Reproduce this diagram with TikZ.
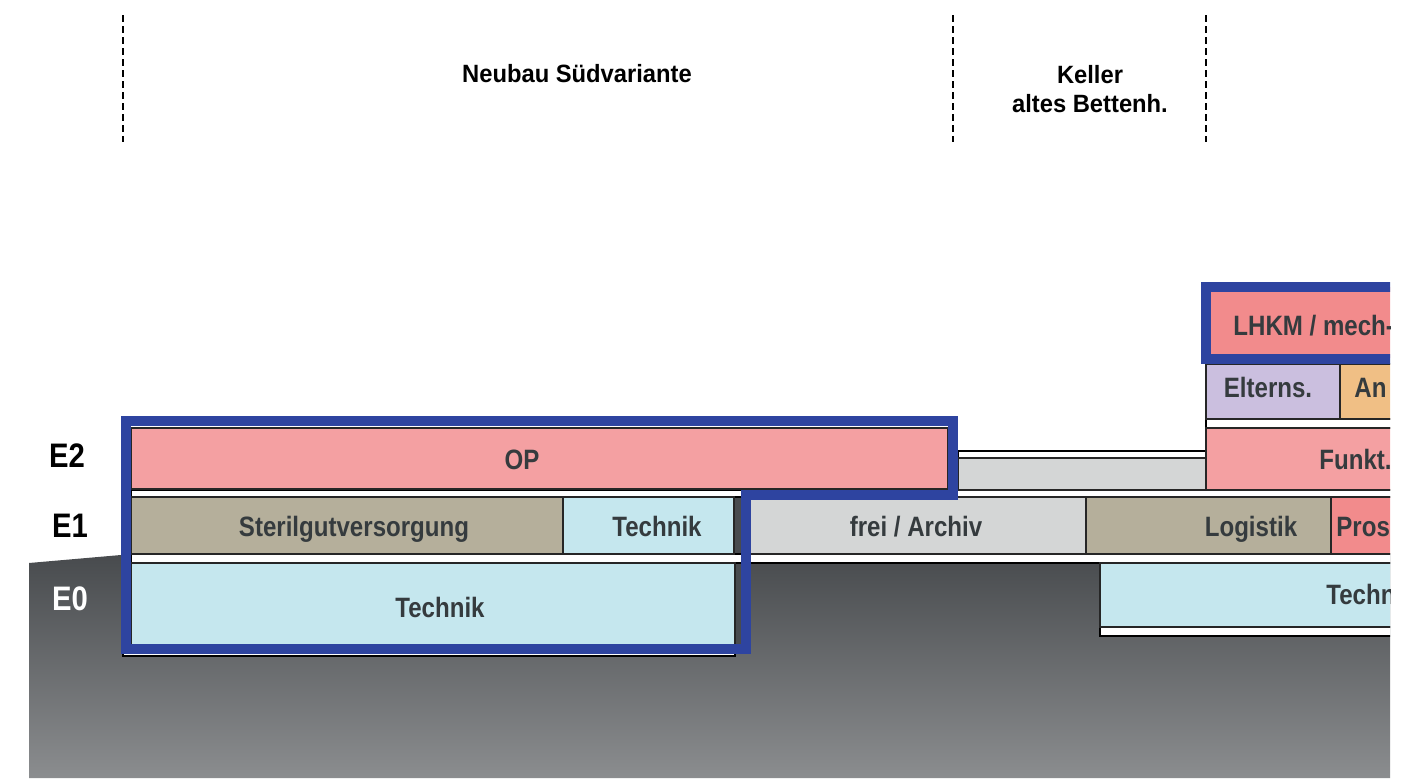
\documentclass[tikz,border=0pt]{standalone}
\usepackage{fontspec}
\setmainfont{Liberation Sans}
\newfontfamily\roomfont{Liberation Sans}[FakeStretch=0.86]
\newfontfamily\headfont{Liberation Sans}[FakeStretch=0.95]

\definecolor{oppink}{HTML}{F4A0A2}
\definecolor{roomred}{HTML}{F28B8C}
\definecolor{taupe}{HTML}{B5AF9B}
\definecolor{techblue}{HTML}{C5E7EE}
\definecolor{freegray}{HTML}{D4D6D6}
\definecolor{lavender}{HTML}{CBBFDF}
\definecolor{apricot}{HTML}{F0BF85}
\definecolor{markblue}{HTML}{2E44A0}
\definecolor{textgray}{HTML}{353B3E}
\definecolor{soiltop}{HTML}{484B4E}
\definecolor{soilbot}{HTML}{8B8D8F}

\tikzset{
  room/.style={draw=black!85,line width=0.7pt},
  slab/.style={draw=black,fill=white,line width=0.7pt},
  roomlabel/.style={inner sep=0pt,text=textgray,font=\roomfont\bfseries\fontsize{14}{16}\selectfont},
  headlabel/.style={inner sep=0pt,align=center,font=\headfont\bfseries\fontsize{12.5}{15}\selectfont},
  floorlabel/.style={inner sep=0pt,anchor=base,font=\roomfont\bfseries\fontsize{17}{18}\selectfont},
  markframe/.style={draw=markblue,line width=5pt,line join=miter},
  section/.style={dash pattern=on 3.5pt off 2pt,line width=0.55pt}
}

\begin{document}
\begin{tikzpicture}[x=0.5pt,y=-0.5pt]
\useasboundingbox (0,0) rectangle (1415,778);

% section boundaries on top
\path (123,15) coordinate(s1t) (123,142) coordinate(s1b)
      (953,15) coordinate(s2t) (953,142) coordinate(s2b)
      (1206,15) coordinate(s3t) (1206,142) coordinate(s3b);
\draw[section] (s1t) -- (s1b);
\draw[section] (s2t) -- (s2b);
\draw[section] (s3t) -- (s3b);
\node[headlabel,anchor=base] (neubau) at (577,82) {Neubau Südvariante};
\node[headlabel,anchor=base] (keller) at (1090,83) {Keller};
\node[headlabel,anchor=base] (altbau) at (1090,112) {altes Bettenh.};

\begin{scope}
\clip (0,0) rectangle (1390,778);

% ground
\shade[top color=soiltop,bottom color=soilbot]
  (29,563) -- (121,555) -- (1400,555) -- (1400,778) -- (29,778) -- cycle;
\fill[soiltop] (734,497) rectangle (745,648);

% slabs between the floors
\filldraw[slab] (131,490) rectangle (1400,497);
\filldraw[slab] (131,554) rectangle (1400,563);
\filldraw[slab] (958,451) rectangle (1206,458);
\filldraw[slab] (1206,419) rectangle (1400,428);
\filldraw[slab] (1100,627) rectangle (1400,636);
\filldraw[slab] (123,645) rectangle (735,656);

% E2
\filldraw[room,fill=oppink] (131,428) rectangle (948,489);
\filldraw[room,fill=freegray] (958,458) rectangle (1206,490);
\filldraw[room,fill=oppink] (1206,428) rectangle (1400,490);
% E1
\filldraw[room,fill=taupe] (131,497) rectangle (563,554);
\filldraw[room,fill=techblue] (563,497) rectangle (734,554);
\filldraw[room,fill=freegray] (745,497) rectangle (1086,554);
\filldraw[room,fill=taupe] (1086,497) rectangle (1331,554);
\filldraw[room,fill=roomred] (1331,497) rectangle (1400,554);
% E0
\filldraw[room,fill=techblue] (131,563) rectangle (735,645);
\filldraw[room,fill=techblue] (1100,563) rectangle (1400,627);
% upper floors on the right
\filldraw[room,fill=lavender] (1206,364) rectangle (1340,419);
\filldraw[room,fill=apricot] (1340,364) rectangle (1400,419);
\fill[roomred] (1205,287) rectangle (1400,358);

% marked areas
\draw[markframe] (126,420.5) -- (953,420.5) -- (953,495) -- (745.5,495)
  -- (745.5,649) -- (126,649) -- cycle;
\draw[markframe] (1405,287) -- (1205.5,287) -- (1205.5,358.5) -- (1405,358.5);

% room names
\node[roomlabel,anchor=base] (op) at (522,469) {OP};
\node[roomlabel,anchor=base] (steril) at (354,536) {Sterilgutversorgung};
\node[roomlabel,anchor=base] (tech1) at (657,536) {Technik};
\node[roomlabel,anchor=base] (archiv) at (916,536) {frei / Archiv};
\node[roomlabel,anchor=base] (logistik) at (1251,536) {Logistik};
\node[roomlabel,anchor=base west] (pros) at (1336,536) {Pros};
\node[roomlabel,anchor=base] (tech0) at (440,617) {Technik};
\node[roomlabel,anchor=base west] (tech0r) at (1326,604) {Technik};
\node[roomlabel,anchor=base west] (funkt) at (1319,469) {Funkt.};
\node[roomlabel,anchor=base] (eltern) at (1268,397) {Elterns.};
\node[roomlabel,anchor=base west] (an) at (1354,397) {An};
\node[roomlabel,anchor=base west] (lhkm) at (1233,335) {LHKM / mech-};
\end{scope}

% floor levels
\node[floorlabel] (e2) at (67,467) {E2};
\node[floorlabel] (e1) at (70,537) {E1};
\node[floorlabel,text=white] (e0) at (70,610) {E0};
\end{tikzpicture}
\end{document}
